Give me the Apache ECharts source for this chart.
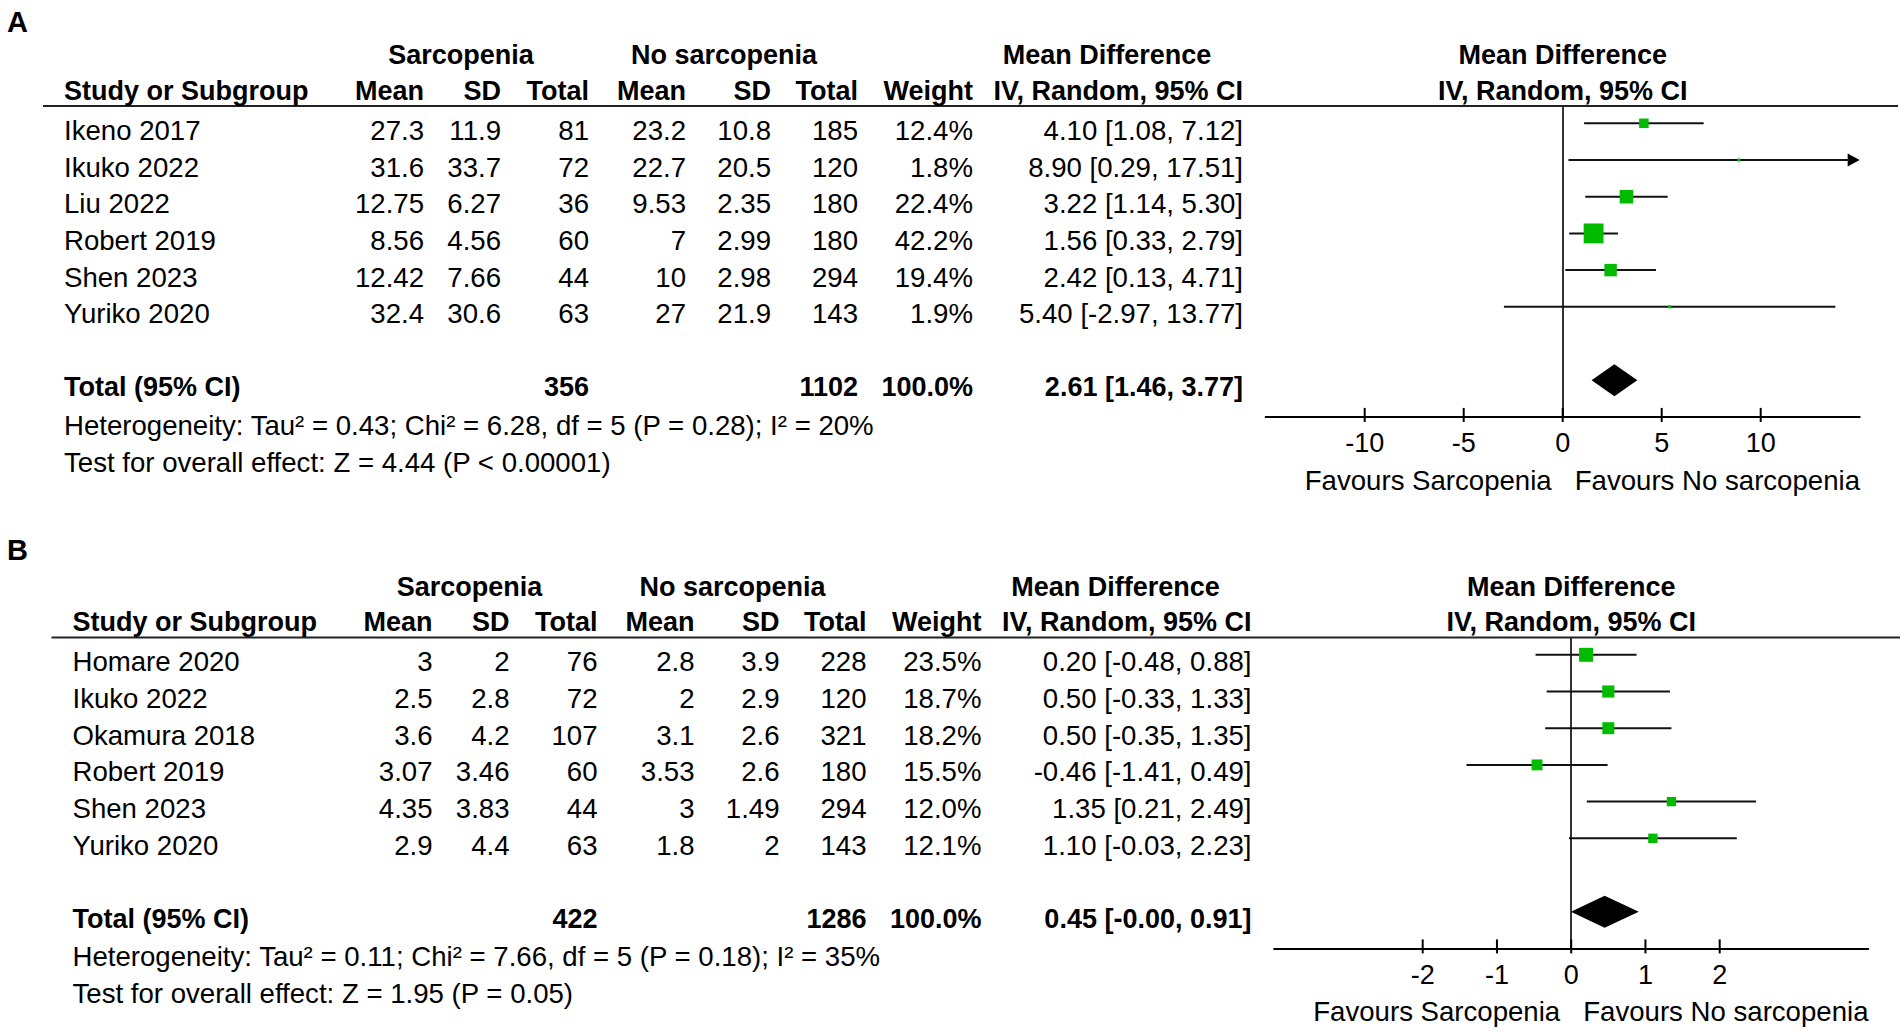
<!DOCTYPE html>
<html><head><meta charset="utf-8">
<script src="https://cdn.jsdelivr.net/npm/echarts@6/dist/echarts.min.js"></script>
<style>html,body{margin:0;padding:0;background:#fff;}#c{width:1901px;height:1033px;}</style>
</head><body><div id="c"></div>
<script>
// ---------------- Panel A data ----------------
const studiesA = ['Ikeno 2017','Ikuko 2022','Liu 2022','Robert 2019','Shen 2023','Yuriko 2020'];
const sarcMeanA = [27.3, 31.6, 12.75, 8.56, 12.42, 32.4];
const sarcSdA   = [11.9, 33.7, 6.27, 4.56, 7.66, 30.6];
const sarcNA    = [81, 72, 36, 60, 44, 63];
const noMeanA   = [23.2, 22.7, 9.53, 7, 10, 27];
const noSdA     = [10.8, 20.5, 2.35, 2.99, 2.98, 21.9];
const noNA      = [185, 120, 180, 180, 294, 143];
const weightA   = [12.4, 1.8, 22.4, 42.2, 19.4, 1.9];
const mdA       = [4.10, 8.90, 3.22, 1.56, 2.42, 5.40];
const loA       = [1.08, 0.29, 1.14, 0.33, 0.13, -2.97];
const hiA       = [7.12, 17.51, 5.30, 2.79, 4.71, 13.77];
const totalA    = [356, 1102, 100.0, 2.61, 1.46, 3.77]; // sarcN, noN, weight, md, lo, hi
const hetA  = 'Heterogeneity: Tau² = 0.43; Chi² = 6.28, df = 5 (P = 0.28); I² = 20%';
const testA = 'Test for overall effect: Z = 4.44 (P < 0.00001)';
const ticksA = [-10, -5, 0, 5, 10];
const rangeA = [-15, 15];

// ---------------- Panel B data ----------------
const studiesB = ['Homare 2020','Ikuko 2022','Okamura 2018','Robert 2019','Shen 2023','Yuriko 2020'];
const sarcMeanB = [3, 2.5, 3.6, 3.07, 4.35, 2.9];
const sarcSdB   = [2, 2.8, 4.2, 3.46, 3.83, 4.4];
const sarcNB    = [76, 72, 107, 60, 44, 63];
const noMeanB   = [2.8, 2, 3.1, 3.53, 3, 1.8];
const noSdB     = [3.9, 2.9, 2.6, 2.6, 1.49, 2];
const noNB      = [228, 120, 321, 180, 294, 143];
const weightB   = [23.5, 18.7, 18.2, 15.5, 12.0, 12.1];
const mdB       = [0.20, 0.50, 0.50, -0.46, 1.35, 1.10];
const loB       = [-0.48, -0.33, -0.35, -1.41, 0.21, -0.03];
const hiB       = [0.88, 1.33, 1.35, 0.49, 2.49, 2.23];
const totalB    = [422, 1286, 100.0, 0.45, -0.004, 0.91];
const hetB  = 'Heterogeneity: Tau² = 0.11; Chi² = 7.66, df = 5 (P = 0.18); I² = 35%';
const testB = 'Test for overall effect: Z = 1.95 (P = 0.05)';
const ticksB = [-2, -1, 0, 1, 2];
const rangeB = [-4, 4];

// ---------------- Layout ----------------
const FONT = '"Liberation Sans", Arial, Helvetica, sans-serif';
const FSB = 27;            // bold text size
const FSR = 27.6;          // regular text size
const ROW = 36.7;          // px per row
const ROW0 = 123.3;        // y of first study row (panel A)
const TXT_OFF = 7;         // text sits slightly below marker line
const GREEN = '#00BB00';

const panels = [
  {label:'A', dx:0, dy:0, studies:studiesA, sm:sarcMeanA, ssd:sarcSdA, sn:sarcNA, nm:noMeanA, nsd:noSdA, nn:noNA,
   w:weightA, md:mdA, lo:loA, hi:hiA, tot:totalA, het:hetA, test:testA, ticks:ticksA, range:rangeA, interval:5},
  {label:'B', dx:8.5, dy:531.5, studies:studiesB, sm:sarcMeanB, ssd:sarcSdB, sn:sarcNB, nm:noMeanB, nsd:noSdB, nn:noNB,
   w:weightB, md:mdB, lo:loB, hi:hiB, tot:totalB, het:hetB, test:testB, ticks:ticksB, range:rangeB, interval:1}
];

// column x (panel A, right aligned unless noted)
const COL = {study:64, sm:424, ssd:501, sn:589, nm:686, nsd:771, nn:858, w:973, ci:1243,
             h1s:461, h1n:724, h1md:1107, ruleL:43, ruleR:1898};
const H1 = -1.86, H2 = -0.885, RULE = -0.47, TOTAL = 7, AXISROW = 8, HET = 8.23, TEST = 9.235, FAV = 9.72;

function f2(v){ return v.toFixed(2); }
function ciText(md, lo, hi){ return f2(md) + ' [' + f2(lo) + ', ' + f2(hi) + ']'; }
function font(bold){ return (bold ? 'bold ' + FSB : FSR) + 'px ' + FONT; }

function tableRender(p){
  return function(params, api){
    const ch = [];
    const txt = (x, r, s, align, bold, off) => {
      const pt = api.coord([x + p.dx, r]);
      ch.push({type:'text', x:pt[0], y:pt[1] + (off || 0),
        style:{text:s, fill:'#000', font:font(bold), align:align, verticalAlign:'middle'}});
    };
    txt(COL.h1s, H1, 'Sarcopenia', 'center', true);
    txt(COL.h1n, H1, 'No sarcopenia', 'center', true);
    txt(COL.h1md, H1, 'Mean Difference', 'center', true);
    txt(COL.study, H2, 'Study or Subgroup', 'left', true);
    txt(COL.sm, H2, 'Mean', 'right', true);
    txt(COL.ssd, H2, 'SD', 'right', true);
    txt(COL.sn, H2, 'Total', 'right', true);
    txt(COL.nm, H2, 'Mean', 'right', true);
    txt(COL.nsd, H2, 'SD', 'right', true);
    txt(COL.nn, H2, 'Total', 'right', true);
    txt(COL.w, H2, 'Weight', 'right', true);
    txt(COL.ci, H2, 'IV, Random, 95% CI', 'right', true);
    p.studies.forEach((s, i) => {
      txt(COL.study, i, s, 'left', false, TXT_OFF);
      txt(COL.sm, i, String(p.sm[i]), 'right', false, TXT_OFF);
      txt(COL.ssd, i, String(p.ssd[i]), 'right', false, TXT_OFF);
      txt(COL.sn, i, String(p.sn[i]), 'right', false, TXT_OFF);
      txt(COL.nm, i, String(p.nm[i]), 'right', false, TXT_OFF);
      txt(COL.nsd, i, String(p.nsd[i]), 'right', false, TXT_OFF);
      txt(COL.nn, i, String(p.nn[i]), 'right', false, TXT_OFF);
      txt(COL.w, i, p.w[i].toFixed(1) + '%', 'right', false, TXT_OFF);
      txt(COL.ci, i, ciText(p.md[i], p.lo[i], p.hi[i]), 'right', false, TXT_OFF);
    });
    const t = p.tot;
    txt(COL.study, TOTAL, 'Total (95% CI)', 'left', true, TXT_OFF);
    txt(COL.sn, TOTAL, String(t[0]), 'right', true, TXT_OFF);
    txt(COL.nn, TOTAL, String(t[1]), 'right', true, TXT_OFF);
    txt(COL.w, TOTAL, t[2].toFixed(1) + '%', 'right', true, TXT_OFF);
    txt(COL.ci, TOTAL, ciText(t[3], t[4], t[5]), 'right', true, TXT_OFF);
    txt(COL.study, HET, p.het, 'left', false);
    txt(COL.study, TEST, p.test, 'left', false);
    return {type:'group', children:ch};
  };
}

function ruleRender(p){
  return function(params, api){
    const a = api.coord([COL.ruleL + p.dx, RULE]);
    const b = api.coord([Math.min(COL.ruleR + p.dx, 1900), RULE]);
    return {type:'line', shape:{x1:a[0], y1:a[1], x2:b[0], y2:b[1]}, style:{stroke:'#222', lineWidth:2, fill:null}};
  };
}

function forestRender(p){
  const xMin = p.range[0], xMax = p.range[1];
  return function(params, api){
    const md = api.value(0), lo = api.value(1), hi = api.value(2), r = api.value(3), w = api.value(4);
    const ch = [];
    const y = api.coord([0, r])[1];
    const xl = api.coord([Math.max(lo, xMin), r])[0];
    const xh = api.coord([Math.min(hi, xMax), r])[0];
    const xm = api.coord([md, r])[0];
    let x1 = xl, x2 = xh;
    if (hi > xMax) {
      x2 = xh - 10;
      ch.push({type:'polygon', shape:{points:[[xh, y], [xh - 12, y - 6.5], [xh - 12, y + 6.5]]}, style:{fill:'#000'}});
    }
    if (lo < xMin) {
      x1 = xl + 10;
      ch.push({type:'polygon', shape:{points:[[xl, y], [xl + 12, y - 6.5], [xl + 12, y + 6.5]]}, style:{fill:'#000'}});
    }
    ch.push({type:'line', shape:{x1:x1, y1:y, x2:x2, y2:y}, style:{stroke:'#111', lineWidth:2}});
    const s = 2.1 * Math.pow(w, 0.6);
    ch.push({type:'rect', shape:{x:xm - s/2, y:y - s/2, width:s, height:s}, style:{fill:GREEN}});
    return {type:'group', children:ch};
  };
}

function diamondRender(params, api){
  const md = api.value(0), lo = api.value(1), hi = api.value(2), r = api.value(3);
  const y = api.coord([0, r])[1];
  const xl = api.coord([lo, r])[0], xh = api.coord([hi, r])[0], xm = api.coord([md, r])[0];
  return {type:'polygon', shape:{points:[[xl, y], [xm, y - 16], [xh, y], [xm, y + 16]]}, style:{fill:'#000'}};
}

// axis ticks crossing the axis line (mostly above, a little below)
function tickRender(params, api){
  const pt = api.coord([api.value(0), AXISROW]);
  return {type:'line', shape:{x1:pt[0], y1:pt[1] - 9, x2:pt[0], y2:pt[1] + 5}, style:{stroke:'#000', lineWidth:2}};
}

function plotLabelRender(params, api){
  const ch = [];
  const put = (r, s, align, off, bold) => {
    const pt = api.coord([0, r]);
    ch.push({type:'text', x:pt[0] + off, y:pt[1], style:{text:s, fill:'#000', font:font(bold), align:align, verticalAlign:'middle'}});
  };
  put(H1, 'Mean Difference', 'center', 0, true);
  put(H2, 'IV, Random, 95% CI', 'center', 0, true);
  put(FAV, 'Favours Sarcopenia', 'right', -11, false);
  put(FAV, 'Favours No sarcopenia', 'left', 12, false);
  return {type:'group', children:ch};
}

const grid = [], xAxis = [], yAxis = [], series = [], graphic = [];
panels.forEach((p, k) => {
  // table grid (pixel-like x, row-unit y)
  const tg = grid.length;
  grid.push({left:0, width:1901, top:ROW0 - 3*ROW + p.dy, height:13*ROW});
  const tx = xAxis.length;
  xAxis.push({gridIndex:tg, type:'value', min:0, max:1901, show:false});
  const ty = yAxis.length;
  yAxis.push({gridIndex:tg, type:'value', min:-3, max:10, inverse:true, show:false});
  // forest plot grid
  const pg = grid.length;
  grid.push({left:1265.7 + p.dx, width:594, top:ROW0 + RULE*ROW + p.dy, height:(AXISROW - RULE)*ROW});
  const xa = xAxis.length;
  xAxis.push({gridIndex:pg, type:'value', min:p.range[0], max:p.range[1], interval:p.interval, position:'bottom',
    axisLine:{show:true, onZero:false, lineStyle:{color:'#000', width:2}},
    axisTick:{show:false},
    axisLabel:{show:true, customValues:p.ticks, color:'#000', fontSize:27, fontFamily:FONT, margin:13},
    splitLine:{show:false}});
  const ya = yAxis.length;
  yAxis.push({gridIndex:pg, type:'value', min:RULE, max:AXISROW, inverse:true,
    axisLine:{show:true, onZero:true, lineStyle:{color:'#000', width:1.6}},
    axisTick:{show:false}, axisLabel:{show:false}, splitLine:{show:false}});

  series.push({type:'custom', name:'rule' + p.label, xAxisIndex:tx, yAxisIndex:ty, silent:true, clip:false,
    renderItem:ruleRender(p), data:[[0, 0]]});
  series.push({type:'custom', name:'table' + p.label, xAxisIndex:tx, yAxisIndex:ty, silent:true, clip:false,
    renderItem:tableRender(p), data:[[0, 0]]});
  series.push({type:'custom', name:'ticks' + p.label, xAxisIndex:xa, yAxisIndex:ya, silent:true, clip:false,
    renderItem:tickRender, data:p.ticks.map(v => [v])});
  const fd = p.studies.map((s, i) => [p.md[i], p.lo[i], p.hi[i], i, p.w[i]]);
  series.push({type:'custom', name:'studies' + p.label, xAxisIndex:xa, yAxisIndex:ya, silent:true, clip:false,
    encode:{x:[0, 1, 2], y:3}, renderItem:forestRender(p), data:fd});
  series.push({type:'custom', name:'total' + p.label, xAxisIndex:xa, yAxisIndex:ya, silent:true, clip:false,
    encode:{x:[0, 1, 2], y:3}, renderItem:diamondRender, data:[[p.tot[3], p.tot[4], p.tot[5], TOTAL]]});
  series.push({type:'custom', name:'labels' + p.label, xAxisIndex:xa, yAxisIndex:ya, silent:true, clip:false,
    renderItem:plotLabelRender, data:[[0, 0]]});
  graphic.push({type:'text', x:7, y:21.7 + (k ? 528.3 : 0), style:{text:p.label, fill:'#000', font:'bold 29px ' + FONT, verticalAlign:'middle'}});
});

const chart = echarts.init(document.getElementById('c'), null, {renderer:'svg'});
chart.setOption({animation:false, backgroundColor:'#fff', grid, xAxis, yAxis, series, graphic});
</script>
</body></html>
